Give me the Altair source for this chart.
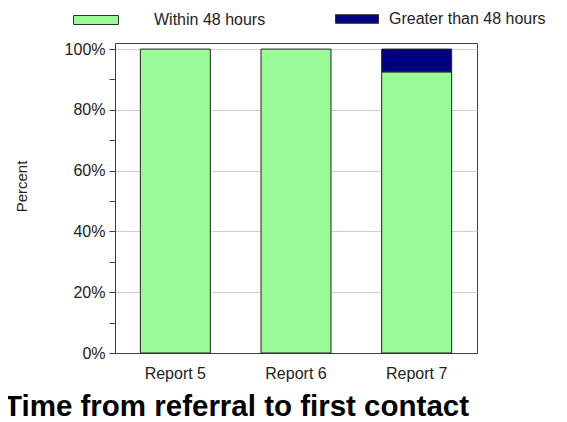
import altair as alt
import pandas as pd

reports = ["Report 5", "Report 6", "Report 7"]
within = [100, 100, 92.5]
greater = [0, 0, 7.5]
series = ["Within 48 hours", "Greater than 48 hours"]
colors = ["#98fb98", "#000080"]
y_ticks = [0, 10, 20, 30, 40, 50, 60, 70, 80, 90, 100]

df = pd.DataFrame({"report": reports, "within": within, "greater": greater})
df["s1"] = series[0]
df["s2"] = series[1]

FONT = "Liberation Sans"

yaxis = alt.Axis(
    values=y_ticks,
    labelExpr="datum.value % 20 == 0 ? datum.value + '%' : ''",
    gridOpacity={"condition": {"test": "datum.value % 20 !== 0", "value": 0}, "value": 1},
    title="Percent",
    titleFontSize=15,
    titleFontWeight="normal",
    titlePadding=35,
    titleY=143,
    tickSize=6,
    labelPadding=4,
)

xenc = alt.X("report:N", sort=reports, title=None,
             scale=alt.Scale(paddingInner=0.42, paddingOuter=0.21),
             axis=alt.Axis(ticks=False, labelPadding=12, labelAngle=0))

base = alt.Chart(df)

l1 = base.mark_bar(stroke="#222222", strokeWidth=1).encode(
    x=xenc,
    y=alt.Y("within:Q", scale=alt.Scale(domain=[0, 102], nice=False), axis=yaxis),
    color=alt.Color("s1:N", scale=alt.Scale(domain=[series[0]], range=[colors[0]]),
                    legend=alt.Legend(title=None, orient="none", legendX=-42, legendY=-46,
                                      symbolType="M-1,-0.2H1V0.2H-1Z", symbolSize=2025,
                                      symbolStrokeColor="#333333", symbolStrokeWidth=1,
                                      symbolOpacity=1, labelOffset=35, labelFontSize=16,
                                      labelFont=FONT, labelColor="#222222", padding=0)),
)

l2 = base.transform_filter("datum.greater > 0").transform_calculate(
    top="datum.within + datum.greater"
).mark_bar(stroke="#222222", strokeWidth=1).encode(
    x=xenc,
    y=alt.Y("within:Q", scale=alt.Scale(domain=[0, 102], nice=False), axis=yaxis),
    y2="top:Q",
    color=alt.Color("s2:N", scale=alt.Scale(domain=[series[1]], range=[colors[1]]),
                    legend=alt.Legend(title=None, orient="none", legendX=220, legendY=-46,
                                      symbolType="M-1,-0.2H1V0.2H-1Z", symbolSize=1849,
                                      symbolStrokeColor="#333333", symbolStrokeWidth=1,
                                      symbolOpacity=1, labelOffset=10, labelFontSize=16,
                                      labelFont=FONT, labelColor="#222222", padding=0)),
)

chart = alt.layer(l1, l2).resolve_scale(color="independent").properties(
    width=362,
    height=310,
    autosize=alt.AutoSizeParams(type="none"),
    padding={"left": 107, "top": 35, "right": 82, "bottom": 68},
    title=alt.TitleParams("Time from referral to first contact", orient="bottom",
                          anchor="start", frame="group", fontSize=29.5, fontWeight="bold",
                          font=FONT, color="#000000", dx=-111, offset=12),
).configure_view(
    stroke="#404040", strokeWidth=1
).configure_axis(
    labelFont=FONT, titleFont=FONT, labelFontSize=16, labelColor="#222222",
    titleColor="#222222", domainColor="#404040", tickColor="#404040",
    gridColor="#d0d0d0",
)

chart.save("out.html", embed_options={"renderer": "svg", "actions": False})
